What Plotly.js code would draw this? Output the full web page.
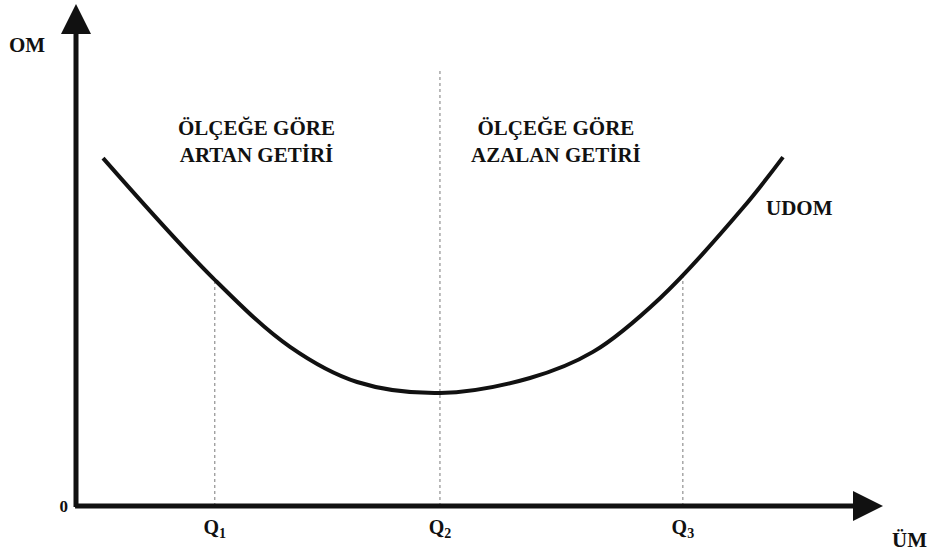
<!DOCTYPE html>
<html>
<head>
<meta charset="utf-8">
<script src="https://cdn.plot.ly/plotly-3.0.1.min.js"></script>
<style>
  html, body { margin: 0; padding: 0; background: #fff; }
  #chart { width: 933px; height: 555px; }
</style>
</head>
<body>
<div id="chart"></div>
<script>
// long-run average cost curve (UDOM), units 0..100 on both axes
const curveX = [3.35, 16.98, 26.52, 34.83, 45.11, 56.26, 64.06, 72.37, 82.65, 87.61];
const curveY = [69.3, 45.4, 31.7, 24.7, 22.5, 25.5, 30.7, 41.4, 59.4, 69.5];

const qValues = [17.2, 45.1, 75.2];
const qTops = [45.4, 86.7, 45.6];
const qLabels = ["Q<sub>1</sub>", "Q<sub>2</sub>", "Q<sub>3</sub>"];

const regionLabels = ["ÖLÇEĞE GÖRE<br>ARTAN GETİRİ", "ÖLÇEĞE GÖRE<br>AZALAN GETİRİ"];
const regionX = [22.4, 59.5];
const regionY = 72.7;

const SERIF = "Liberation Serif, Times New Roman, serif";
const INK = "#111";

function textNote(text, x, y, size, ref = "data") {
  return {
    text,
    x,
    y,
    xref: ref === "paper" ? "paper" : "x",
    yref: ref === "paper" ? "paper" : "y",
    showarrow: false,
    xanchor: "center",
    yanchor: "middle",
    font: { family: SERIF, size, color: INK, weight: "bold" },
  };
}

function axisArrow(tipX, tipY, tailX, tailY) {
  return {
    text: "",
    x: tipX,
    y: tipY,
    ax: tailX,
    ay: tailY,
    xref: "x",
    yref: "y",
    axref: "x",
    ayref: "y",
    showarrow: true,
    arrowhead: 2,
    arrowwidth: 5,
    arrowsize: 1.2,
    arrowcolor: INK,
    standoff: 0,
  };
}

const guideX = [];
const guideY = [];
qValues.forEach((q, i) => {
  guideX.push(q, q, null);
  guideY.push(0, qTops[i], null);
});

const traces = [
  {
    type: "scatter",
    mode: "lines",
    x: guideX,
    y: guideY,
    line: { color: "#7a7a7a", width: 1, dash: "dot" },
    hoverinfo: "skip",
    showlegend: false,
  },
  {
    type: "scatter",
    mode: "lines",
    x: curveX,
    y: curveY,
    line: { color: INK, width: 4, shape: "spline", smoothing: 1 },
    showlegend: false,
  },
];

const annotations = [
  axisArrow(0, 100, 0, -0.5),
  axisArrow(100, 0, -0.3, 0),
  textNote(regionLabels[0], regionX[0], regionY, 21),
  textNote(regionLabels[1], regionX[1], regionY, 21),
  textNote("UDOM", 89.7, 59.4, 21),
  textNote("OM", -0.061, 0.918, 21, "paper"),
  textNote("ÜM", 1.033, -0.068, 21, "paper"),
];

const layout = {
  width: 933,
  height: 555,
  margin: { l: 76, r: 50, t: 4, b: 49 },
  paper_bgcolor: "#fff",
  plot_bgcolor: "#fff",
  showlegend: false,
  xaxis: {
    range: [0, 100],
    showgrid: false,
    zeroline: false,
    showline: false,
    ticks: "",
    tickvals: qValues,
    ticktext: qLabels,
    tickfont: { family: SERIF, size: 20, color: INK, weight: "bold" },
    ticklabelstandoff: 7,
    fixedrange: true,
  },
  yaxis: {
    range: [0, 100],
    showgrid: false,
    zeroline: false,
    showline: false,
    ticks: "",
    tickvals: [0],
    ticktext: ["0"],
    tickfont: { family: SERIF, size: 17, color: INK, weight: "bold" },
    ticklabelstandoff: 7,
    fixedrange: true,
  },
  annotations,
};

Plotly.newPlot("chart", traces, layout, { displayModeBar: false, staticPlot: true });
</script>
</body>
</html>
